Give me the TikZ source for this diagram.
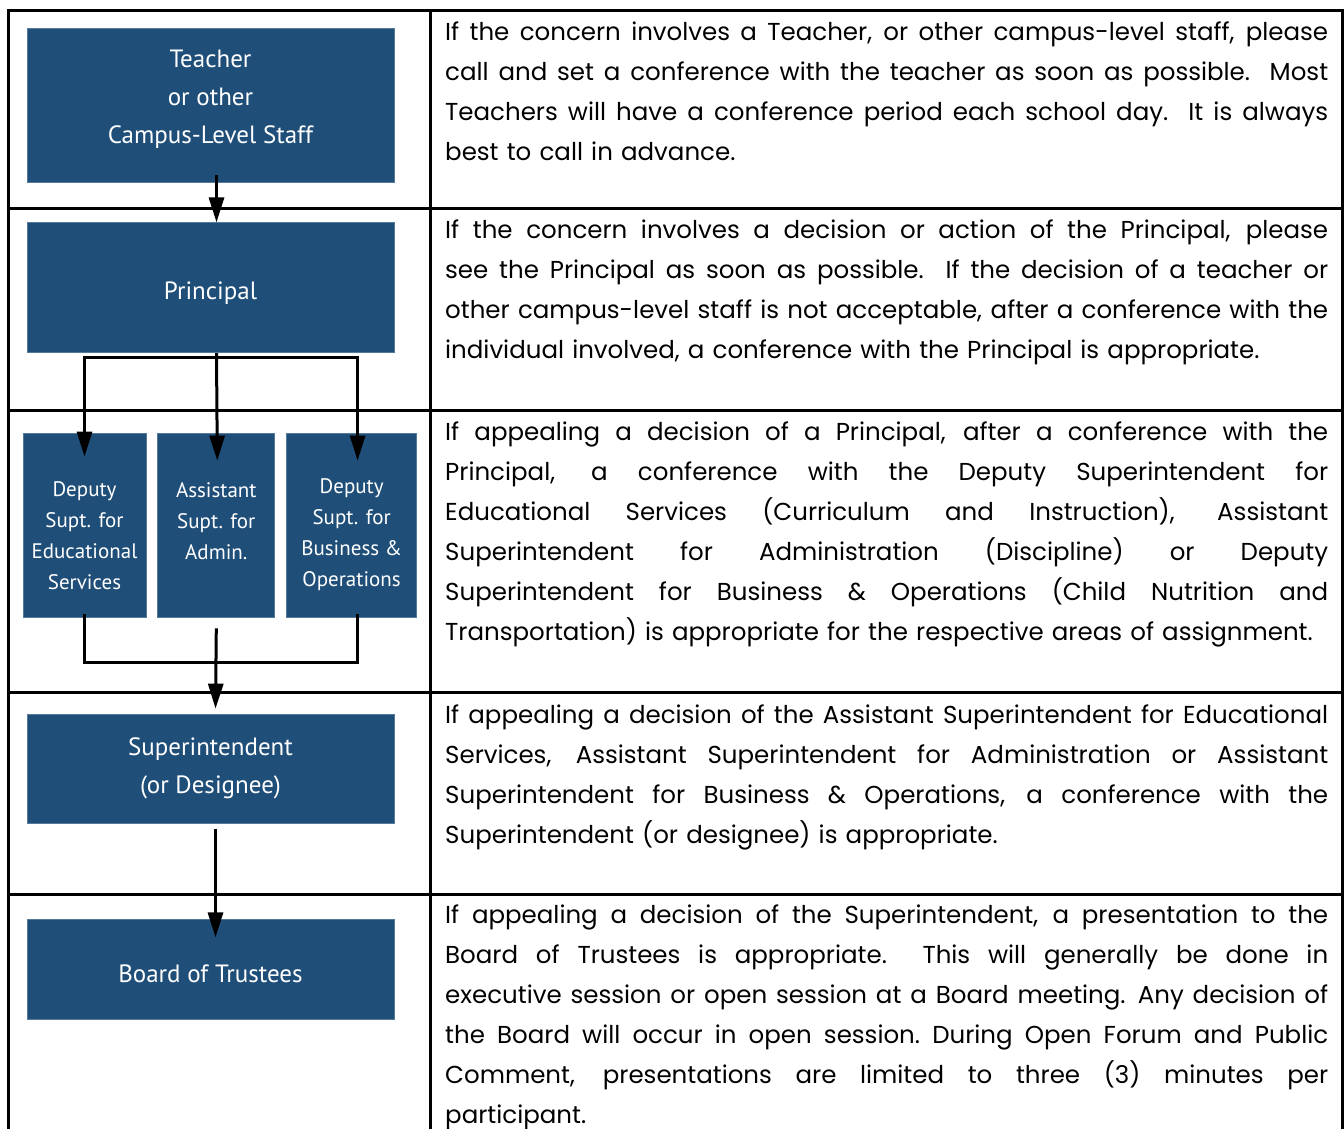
\documentclass[tikz,border=0pt]{standalone}
\usepackage{fontspec}
\setmainfont{Poppins}
\newfontfamily\kastenfont{PT Sans}
\usepackage{xcolor}
\usepackage{tikz}
\usetikzlibrary{arrows.meta}
\usetikzlibrary{positioning}
\definecolor{kastenblau}{RGB}{31,78,121}
\newcommand\Zeile[1]{\hbox to 883pt{\spaceskip=\fontdimen2\font plus 1fil\relax #1}}
\newcommand\Ende[1]{\hbox{#1}}
\tikzset{
  Kasten/.style={fill=kastenblau, draw=kastenblau!75!white, line width=0.8pt, text=white,
    align=center, inner sep=0pt, font=\kastenfont\fontsize{25}{38}\selectfont}, % grosse Kaesten
  KKasten/.style={Kasten, minimum height=184pt, font=\kastenfont\fontsize{21}{31}\selectfont}, % kleine Kaesten
  Linie/.style={line width=3pt},
  Pfeil/.style={Linie,->}, % fuer Pfeile
  Gitter/.style={line width=3pt},
  Absatz/.style={anchor=base west, text width=883pt, inner sep=0pt, font=\fontsize{24.5}{40}\selectfont}
}

\begin{document}
\begin{tikzpicture}[x=1pt,y=-1pt,
>={Triangle[length=25pt,width=15pt]} % Pfeilspitzen
]
\useasboundingbox (0,0) rectangle (1344,1129);

%Tabelle
\draw[Gitter] (8,1129) -- (8,11) -- (1342,11) -- (1342,1129);
\draw[Gitter] (430,11) -- (430,1129);
\foreach \y in {208,410,692,894}
  \draw[Gitter] (8,\y) -- (1342,\y);

%Kaesten
\node[Kasten, minimum width=367pt, minimum height=154pt] (Teach) at (210.5,105)
  {Teacher\\or other\\Campus-Level Staff\\[-22pt]\mbox{}};
\node[Kasten, minimum width=367pt, minimum height=130pt, below=40pt of Teach] (Prin)
  {\mbox{}\\[-10pt]Principal};

\node[KKasten, minimum width=123pt] (DepEd) at (84.5,525)
  {\mbox{}\\[6pt]Deputy\\Supt. for\\Educational\\Services};
\node[KKasten, minimum width=117pt, right=11pt of DepEd] (AsstAd)
  {\mbox{}\\[6pt]Assistant\\Supt. for\\Admin.\\\mbox{}};
\node[KKasten, minimum width=130pt, right=11pt of AsstAd] (DepBus)
  {\mbox{}\\[4pt]Deputy\\Supt. for\\Business \&\\Operations};

\node[Kasten, minimum width=367pt, minimum height=109pt] (Supt) at (210.5,768.5)
  {Superintendent\\(or Designee)};
\node[Kasten, minimum width=367pt, minimum height=100pt, below=96pt of Supt] (Board)
  {\mbox{}\\[-12pt]Board of Trustees};

%Pfeile
\draw[Pfeil] ([xshift=6pt,yshift=7pt]Teach.south) -- ([xshift=6pt]Prin.north);

\coordinate (Split) at ([xshift=6pt,yshift=-4pt]Prin.south);
\draw[Pfeil] ([xshift=6pt]Prin.south) -- ([xshift=1pt,yshift=-28pt]AsstAd.north);
\draw[Pfeil] (Split) -| ([yshift=-24pt]DepEd.north);
\draw[Pfeil] (Split) -| ([xshift=6pt,yshift=-28pt]DepBus.north);

\coordinate (Merge) at ([yshift=-45pt]DepEd.south);
\draw[Linie] ([yshift=3pt]DepEd.south) -- (Merge) -| ([xshift=6pt,yshift=3pt]DepBus.south);
\draw[Pfeil] ([yshift=-11pt]AsstAd.south) -- ([xshift=5pt,yshift=5pt]Supt.north);

\draw[Pfeil] ([xshift=5pt,yshift=-6pt]Supt.south) -- ([xshift=5pt,yshift=-18pt]Board.north);

%Texte
\node[Absatz] (TxtTeach) at (445,41) {%
  \Zeile{If the concern involves a Teacher, or other campus-level staff, please}
  \Zeile{call and set a conference with the teacher as soon as possible.\ \ Most}
  \Zeile{Teachers will have a conference period each school day.\ \ It is always}
  \Ende{best to call in advance.}};
\node[Absatz] (TxtPrin) at (445,238) {%
  \Zeile{If the concern involves a decision or action of the Principal, please}
  \Zeile{see the Principal as soon as possible.\ \ If the decision of a teacher or}
  \Zeile{other campus-level staff is not acceptable, after a conference with the}
  \Ende{individual involved, a conference with the Principal is appropriate.}};
\node[Absatz] (TxtDep) at (445,440) {%
  \Zeile{If appealing a decision of a Principal, after a conference with the}
  \Zeile{Principal, a conference with the Deputy Superintendent for}
  \Zeile{Educational Services (Curriculum and Instruction), Assistant}
  \Zeile{Superintendent for Administration (Discipline) or Deputy}
  \Zeile{Superintendent for Business \& Operations (Child Nutrition and}
  \Ende{Transportation) is appropriate for the respective areas of assignment.}};
\node[Absatz] (TxtSupt) at (445,723) {%
  \Zeile{If appealing a decision of the Assistant Superintendent for Educational}
  \Zeile{Services, Assistant Superintendent for Administration or Assistant}
  \Zeile{Superintendent for Business \& Operations, a conference with the}
  \Ende{Superintendent (or designee) is appropriate.}};
\node[Absatz] (TxtBoard) at (445,923) {%
  \Zeile{If appealing a decision of the Superintendent, a presentation to the}
  \Zeile{Board of Trustees is appropriate.\ \ This will generally be done in}
  \Zeile{executive session or open session at a Board meeting. Any decision of}
  \Zeile{the Board will occur in open session. During Open Forum and Public}
  \Zeile{Comment, presentations are limited to three (3) minutes per}
  \Ende{participant.}};

\end{tikzpicture}
\end{document}
